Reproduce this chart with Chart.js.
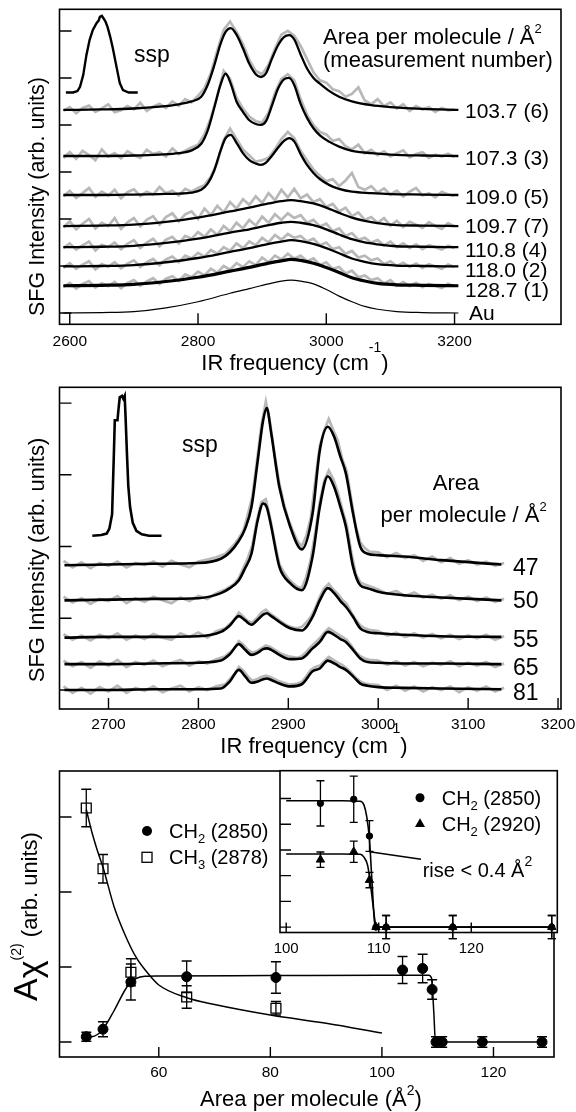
<!DOCTYPE html>
<html>
<head>
<meta charset="utf-8">
<title>SFG spectra</title>
<script src="https://cdn.jsdelivr.net/npm/chart.js@4.4.1/dist/chart.umd.min.js"></script>
<style>
  html, body { margin: 0; padding: 0; background: #fff; }
  body { position: relative; width: 576px; height: 1112px; overflow: hidden; }
  canvas { position: absolute; }
</style>
</head>
<body>
<canvas id="top" width="576" height="380" style="left:0;top:0"></canvas>
<canvas id="mid" width="576" height="382" style="left:0;top:380px"></canvas>
<canvas id="bottom" width="576" height="350" style="left:0;top:762px"></canvas>
<canvas id="inset" width="346" height="200" style="left:230px;top:762px"></canvas>
<script>
const FONT = '"Liberation Sans", Arial, Helvetica, sans-serif';
const GRAY = '#b8b8b8';

// ---- panel 1 : spectra, area per molecule (measurement number) ----
const p1XTicks = [2600, 2800, 3000, 3200];
const p1YTicks = [0, 1, 2, 3, 4, 5, 6];

const pulse1X = [2594, 2605, 2612, 2616, 2621, 2626, 2631, 2636, 2642, 2645, 2647, 2650, 2653, 2656, 2659, 2663, 2667, 2673, 2678, 2683, 2692, 2706];
const pulse1Y = [4.69, 4.69, 4.72, 4.81, 5.06, 5.49, 5.81, 6.02, 6.17, 6.22, 6.3, 6.32, 6.26, 6.19, 6.08, 5.88, 5.64, 5.23, 4.89, 4.74, 4.69, 4.69];

const fitX1 = [2590, 2650, 2700, 2740, 2770, 2790, 2805, 2815, 2825, 2835, 2843, 2851, 2860, 2870, 2880, 2890, 2898, 2906, 2915, 2925, 2934, 2942, 2950, 2960, 2970, 2980, 2990, 3005, 3020, 3040, 3070, 3100, 3150, 3206];
const fit1037 = [4.32, 4.33, 4.35, 4.39, 4.44, 4.5, 4.6, 4.85, 5.25, 5.72, 5.98, 6.06, 5.92, 5.63, 5.3, 5.08, 5.02, 5.1, 5.4, 5.7, 5.87, 5.91, 5.82, 5.5, 5.2, 5.0, 4.88, 4.72, 4.6, 4.5, 4.42, 4.38, 4.34, 4.32];
const fit1073 = [3.34, 3.34, 3.35, 3.37, 3.4, 3.46, 3.6, 3.88, 4.35, 4.85, 5.09, 4.88, 4.5, 4.28, 4.1, 4.02, 4.0, 4.08, 4.4, 4.78, 4.97, 5.0, 4.85, 4.45, 4.15, 3.93, 3.78, 3.64, 3.54, 3.45, 3.4, 3.37, 3.35, 3.34];
const fit1090 = [2.51, 2.51, 2.52, 2.53, 2.54, 2.56, 2.62, 2.75, 3.02, 3.45, 3.72, 3.79, 3.62, 3.4, 3.25, 3.18, 3.15, 3.2, 3.34, 3.52, 3.66, 3.72, 3.65, 3.38, 3.15, 2.98, 2.85, 2.72, 2.64, 2.58, 2.55, 2.53, 2.52, 2.51];

const fitX2 = [2590, 2650, 2700, 2750, 2800, 2850, 2880, 2910, 2930, 2945, 2960, 2980, 3000, 3020, 3040, 3060, 3080, 3110, 3150, 3206];
const fit1097 = [1.85, 1.86, 1.88, 1.94, 2.03, 2.16, 2.24, 2.33, 2.38, 2.4, 2.38, 2.33, 2.24, 2.13, 2.03, 1.96, 1.91, 1.87, 1.86, 1.85];
const fit1108 = [1.4, 1.41, 1.43, 1.49, 1.58, 1.71, 1.78, 1.87, 1.92, 1.94, 1.92, 1.87, 1.78, 1.67, 1.57, 1.5, 1.46, 1.42, 1.41, 1.4];
const fit1180 = [0.99, 1.0, 1.02, 1.08, 1.17, 1.3, 1.38, 1.47, 1.52, 1.55, 1.53, 1.47, 1.38, 1.27, 1.16, 1.09, 1.04, 1.01, 1.0, 0.99];
const fit1287 = [0.58, 0.59, 0.61, 0.67, 0.76, 0.89, 0.97, 1.06, 1.11, 1.14, 1.12, 1.06, 0.97, 0.86, 0.75, 0.68, 0.63, 0.6, 0.59, 0.58];
const fitAu = [0, 0.01, 0.03, 0.11, 0.24, 0.42, 0.52, 0.62, 0.68, 0.7, 0.68, 0.62, 0.5, 0.36, 0.24, 0.14, 0.08, 0.03, 0.01, 0];

const rawX1 = [2590, 2600, 2610, 2620, 2630, 2640, 2650, 2660, 2670, 2680, 2690, 2700, 2710, 2720, 2730, 2740, 2750, 2760, 2770, 2780, 2790, 2800, 2810, 2820, 2830, 2840, 2850, 2860, 2870, 2880, 2890, 2900, 2910, 2920, 2930, 2940, 2950, 2960, 2970, 2980, 2990, 3000, 3010, 3020, 3030, 3040, 3050, 3060, 3070, 3080, 3090, 3100, 3110, 3120, 3130, 3140, 3150, 3160, 3170, 3180, 3190, 3200];
const raw1037 = [4.30, 4.38, 4.25, 4.36, 4.41, 4.28, 4.35, 4.44, 4.27, 4.31, 4.40, 4.33, 4.47, 4.30, 4.39, 4.45, 4.36, 4.50, 4.41, 4.55, 4.48, 4.62, 4.78, 5.10, 5.58, 6.02, 6.20, 5.98, 5.72, 5.38, 5.15, 5.08, 5.28, 5.62, 5.92, 6.00, 5.90, 5.68, 5.40, 5.12, 4.95, 4.90, 4.76, 4.72, 4.60, 4.66, 4.80, 4.52, 4.44, 4.55, 4.40, 4.48, 4.35, 4.44, 4.30, 4.40, 4.33, 4.38, 4.28, 4.36, 4.31, 4.33];
const raw1073 = [3.30, 3.42, 3.28, 3.45, 3.36, 3.25, 3.48, 3.33, 3.40, 3.29, 3.44, 3.36, 3.30, 3.47, 3.38, 3.42, 3.33, 3.50, 3.38, 3.45, 3.52, 3.58, 3.80, 4.15, 4.62, 5.15, 4.98, 4.58, 4.35, 4.18, 4.08, 4.05, 4.26, 4.68, 4.98, 5.08, 4.95, 4.55, 4.22, 4.00, 3.85, 3.80, 3.66, 3.70, 3.55, 3.48, 3.58, 3.40, 3.47, 3.36, 3.44, 3.33, 3.40, 3.46, 3.31, 3.38, 3.42, 3.30, 3.37, 3.33, 3.39, 3.32];
const raw1090 = [2.48, 2.60, 2.45, 2.55, 2.66, 2.47, 2.58, 2.50, 2.62, 2.44, 2.57, 2.63, 2.49, 2.58, 2.52, 2.68, 2.55, 2.60, 2.50, 2.64, 2.58, 2.66, 2.72, 2.90, 3.20, 3.68, 3.92, 3.70, 3.48, 3.35, 3.22, 3.25, 3.30, 3.48, 3.70, 3.85, 3.72, 3.45, 3.25, 3.05, 2.92, 2.80, 2.85, 2.70, 2.82, 2.98, 2.68, 2.62, 2.70, 2.56, 2.65, 2.52, 2.60, 2.48, 2.58, 2.66, 2.50, 2.55, 2.46, 2.58, 2.52, 2.49];
const raw1097 = [1.82, 1.95, 1.78, 1.90, 2.00, 1.80, 1.92, 1.85, 2.02, 1.79, 1.93, 2.02, 1.84, 1.98, 2.06, 1.88, 2.04, 2.12, 1.95, 2.10, 2.16, 2.00, 2.22, 2.08, 2.28, 2.14, 2.36, 2.22, 2.42, 2.30, 2.48, 2.34, 2.55, 2.40, 2.62, 2.46, 2.64, 2.44, 2.52, 2.36, 2.42, 2.26, 2.32, 2.16, 2.24, 2.06, 2.14, 1.98, 2.04, 1.92, 2.02, 1.86, 1.96, 1.83, 1.94, 1.88, 1.81, 1.93, 1.85, 1.79, 1.91, 1.84];
const raw1108 = [1.38, 1.48, 1.35, 1.44, 1.52, 1.33, 1.45, 1.40, 1.50, 1.36, 1.47, 1.55, 1.38, 1.50, 1.58, 1.42, 1.56, 1.62, 1.48, 1.64, 1.58, 1.72, 1.62, 1.78, 1.66, 1.85, 1.74, 1.92, 1.80, 1.98, 1.86, 2.05, 1.92, 2.10, 1.98, 2.12, 2.02, 2.08, 1.92, 1.98, 1.84, 1.90, 1.74, 1.80, 1.64, 1.70, 1.56, 1.60, 1.50, 1.55, 1.44, 1.52, 1.40, 1.48, 1.38, 1.46, 1.36, 1.44, 1.40, 1.35, 1.43, 1.38];
const raw1180 = [0.96, 1.06, 0.94, 1.03, 1.10, 0.93, 1.04, 0.98, 1.08, 0.95, 1.05, 1.12, 0.98, 1.08, 1.15, 1.02, 1.14, 1.20, 1.08, 1.22, 1.16, 1.28, 1.20, 1.34, 1.26, 1.40, 1.32, 1.48, 1.38, 1.52, 1.44, 1.60, 1.50, 1.66, 1.56, 1.68, 1.60, 1.64, 1.52, 1.58, 1.44, 1.50, 1.36, 1.40, 1.26, 1.32, 1.18, 1.22, 1.12, 1.16, 1.04, 1.10, 1.00, 1.07, 0.98, 1.05, 0.96, 1.04, 0.99, 0.94, 1.03, 0.98];
const raw1287 = [0.55, 0.64, 0.52, 0.62, 0.68, 0.54, 0.63, 0.57, 0.66, 0.53, 0.64, 0.70, 0.58, 0.67, 0.74, 0.62, 0.73, 0.78, 0.68, 0.82, 0.76, 0.88, 0.80, 0.94, 0.86, 1.00, 0.92, 1.06, 0.98, 1.10, 1.02, 1.18, 1.08, 1.22, 1.14, 1.26, 1.16, 1.22, 1.10, 1.16, 1.02, 1.08, 0.94, 0.98, 0.84, 0.90, 0.76, 0.80, 0.70, 0.74, 0.63, 0.70, 0.58, 0.66, 0.57, 0.64, 0.55, 0.62, 0.58, 0.53, 0.62, 0.57];

// ---- panel 2 : spectra, area per molecule 47..81 ----
const p2XTicks = [2700, 2800, 2900, 3000, 3100, 3200];
const p2YTicks = [0, 1, 2, 3, 4];

const pulse2X = [2682, 2692, 2698, 2701, 2704, 2706, 2707, 2710, 2711, 2712.5, 2715, 2716.5, 2718, 2719, 2720.5, 2722, 2724, 2727, 2731, 2737, 2745, 2759];
const pulse2Y = [2.15, 2.16, 2.18, 2.25, 2.45, 3.3, 3.76, 3.76, 3.9, 4.08, 4.1, 4.06, 4.1, 3.8, 3.3, 2.85, 2.55, 2.33, 2.22, 2.17, 2.15, 2.15];

const fitX3 = [2651, 2700, 2750, 2800, 2825, 2835, 2845, 2852, 2859, 2866, 2872, 2876, 2881, 2890, 2902, 2915, 2927, 2935, 2944, 2951, 2958, 2964, 2972, 2980, 2988, 3000, 3029, 3070, 3137];
const fit47 = [1.74, 1.75, 1.76, 1.77, 1.83, 1.92, 2.08, 2.25, 2.55, 3.2, 3.76, 3.93, 3.58, 2.83, 2.28, 1.96, 2.46, 3.34, 3.67, 3.53, 3.25, 3.02, 2.46, 2.0, 1.9, 1.88, 1.86, 1.81, 1.75];
const fit50 = [1.25, 1.26, 1.27, 1.28, 1.35, 1.42, 1.53, 1.7, 1.9, 2.37, 2.6, 2.55, 2.28, 1.72, 1.49, 1.39, 1.86, 2.55, 2.98, 2.83, 2.55, 2.28, 1.72, 1.46, 1.42, 1.37, 1.32, 1.29, 1.25];
const fit55 = [0.73, 0.74, 0.74, 0.75, 0.81, 0.9, 1.03, 0.97, 0.91, 0.98, 1.05, 1.07, 1.03, 0.95, 0.86, 0.83, 1.02, 1.25, 1.42, 1.35, 1.24, 1.16, 1.02, 0.86, 0.81, 0.79, 0.77, 0.75, 0.74];
const fit65 = [0.36, 0.36, 0.37, 0.38, 0.41, 0.5, 0.64, 0.56, 0.49, 0.52, 0.57, 0.58, 0.56, 0.49, 0.43, 0.44, 0.58, 0.67, 0.81, 0.77, 0.71, 0.67, 0.56, 0.44, 0.39, 0.38, 0.37, 0.37, 0.36];
const fit81 = [0.0, 0.0, 0.01, 0.01, 0.02, 0.12, 0.28, 0.19, 0.1, 0.12, 0.15, 0.16, 0.14, 0.09, 0.05, 0.08, 0.26, 0.3, 0.41, 0.37, 0.32, 0.28, 0.19, 0.09, 0.06, 0.04, 0.03, 0.02, 0.01];

const rawX2 = [2650, 2660, 2670, 2680, 2690, 2700, 2710, 2720, 2730, 2740, 2750, 2760, 2770, 2780, 2790, 2800, 2810, 2820, 2830, 2840, 2845, 2850, 2855, 2860, 2865, 2870, 2875, 2880, 2885, 2890, 2895, 2900, 2905, 2910, 2915, 2920, 2925, 2930, 2935, 2940, 2945, 2950, 2955, 2960, 2965, 2970, 2975, 2980, 2985, 2990, 3000, 3010, 3020, 3030, 3040, 3050, 3060, 3070, 3080, 3090, 3100, 3110, 3120, 3130, 3140];
const raw47 = [1.80, 1.71, 1.78, 1.70, 1.77, 1.73, 1.79, 1.71, 1.77, 1.74, 1.79, 1.72, 1.80, 1.75, 1.71, 1.79, 1.82, 1.85, 1.90, 2.03, 2.12, 2.22, 2.45, 2.70, 3.18, 3.68, 4.02, 3.70, 3.26, 2.88, 2.60, 2.38, 2.22, 2.08, 2.00, 2.15, 2.40, 2.92, 3.40, 3.62, 3.78, 3.62, 3.48, 3.22, 3.05, 2.66, 2.28, 2.06, 1.98, 1.93, 1.92, 1.85, 1.91, 1.84, 1.88, 1.80, 1.86, 1.78, 1.84, 1.76, 1.81, 1.75, 1.79, 1.73, 1.77];
const raw50 = [1.30, 1.22, 1.28, 1.20, 1.27, 1.24, 1.31, 1.21, 1.28, 1.23, 1.30, 1.25, 1.21, 1.29, 1.24, 1.31, 1.27, 1.35, 1.40, 1.48, 1.56, 1.70, 1.84, 2.02, 2.36, 2.62, 2.66, 2.38, 2.05, 1.76, 1.64, 1.55, 1.49, 1.44, 1.42, 1.58, 1.82, 2.20, 2.62, 2.92, 3.06, 2.94, 2.76, 2.52, 2.30, 1.92, 1.62, 1.50, 1.47, 1.45, 1.40, 1.34, 1.38, 1.31, 1.36, 1.29, 1.33, 1.27, 1.32, 1.25, 1.30, 1.24, 1.29, 1.23, 1.27];
const raw55 = [0.78, 0.70, 0.76, 0.69, 0.77, 0.72, 0.79, 0.70, 0.76, 0.71, 0.78, 0.73, 0.70, 0.79, 0.74, 0.80, 0.73, 0.82, 0.86, 0.98, 1.08, 1.02, 0.96, 0.94, 1.00, 1.08, 1.12, 1.06, 1.02, 0.97, 0.93, 0.89, 0.87, 0.86, 0.88, 0.94, 1.02, 1.14, 1.30, 1.42, 1.48, 1.40, 1.34, 1.26, 1.20, 1.08, 0.98, 0.90, 0.86, 0.84, 0.82, 0.76, 0.80, 0.74, 0.79, 0.73, 0.78, 0.72, 0.77, 0.71, 0.76, 0.72, 0.77, 0.70, 0.75];
const raw65 = [0.41, 0.33, 0.39, 0.31, 0.40, 0.34, 0.42, 0.32, 0.39, 0.35, 0.41, 0.33, 0.38, 0.42, 0.34, 0.40, 0.37, 0.43, 0.47, 0.58, 0.68, 0.63, 0.56, 0.52, 0.54, 0.58, 0.62, 0.60, 0.56, 0.52, 0.49, 0.47, 0.46, 0.45, 0.47, 0.53, 0.60, 0.66, 0.72, 0.80, 0.86, 0.82, 0.78, 0.74, 0.70, 0.62, 0.53, 0.47, 0.44, 0.42, 0.41, 0.35, 0.40, 0.34, 0.39, 0.33, 0.38, 0.35, 0.40, 0.33, 0.38, 0.34, 0.39, 0.32, 0.37];
const raw81 = [0.05, -0.04, 0.03, -0.05, 0.04, -0.02, 0.06, -0.04, 0.03, -0.01, 0.05, -0.03, 0.02, 0.06, -0.02, 0.04, 0.00, 0.05, 0.08, 0.22, 0.32, 0.27, 0.19, 0.13, 0.15, 0.18, 0.20, 0.18, 0.15, 0.12, 0.10, 0.08, 0.08, 0.09, 0.11, 0.19, 0.28, 0.32, 0.34, 0.40, 0.46, 0.42, 0.38, 0.35, 0.30, 0.24, 0.17, 0.12, 0.09, 0.08, 0.07, 0.00, 0.06, -0.01, 0.05, -0.02, 0.04, 0.00, 0.05, -0.03, 0.04, -0.01, 0.05, -0.02, 0.03];

// ---- panel 3 : amplitudes vs area per molecule ----
const p3XTicks = [60, 80, 100, 120];
const p3YTicks = [0, 1, 2, 3];
const areaCH2 = [47, 50, 55, 65, 81, 103.7, 107.3, 109.0, 109.7, 110.8, 118.0, 128.7];
const ampCH2 = [0.07, 0.17, 0.80, 0.87, 0.86, 0.96, 0.98, 0.70, 0, 0, 0, 0];
const errCH2 = [0.06, 0.1, 0.24, 0.21, 0.21, 0.18, 0.19, 0.13, 0.07, 0.07, 0.07, 0.07];
const areaCH3 = [47, 50, 55, 65, 81];
const ampCH3 = [3.12, 2.31, 0.93, 0.60, 0.45];
const errCH3 = [0.25, 0.19, 0.18, 0.15, 0.09];
const fitCH2X = [47, 48, 49, 50, 52, 54, 55, 56, 57.5, 60, 80, 100, 108.4, 108.9, 109.3, 109.6, 110, 128.7];
const fitCH2Y = [0.07, 0.07, 0.1, 0.17, 0.42, 0.7, 0.8, 0.85, 0.875, 0.88, 0.885, 0.89, 0.89, 0.85, 0.4, 0.0, 0.0, 0.0];
const fitCH3X = [47, 48, 49, 50, 52, 54, 56, 58, 60, 65, 70, 80, 90, 100];
const fitCH3Y = [3.1, 2.8, 2.55, 2.33, 1.8, 1.42, 1.12, 0.92, 0.76, 0.59, 0.5, 0.36, 0.25, 0.12];

// inset
const inXTicks = [100, 110, 120];
const inYTicks = [0, 1, 2, 3, 4, 5];
const inAreas = [103.7, 107.3, 109.0, 109.7, 110.8, 118.0, 128.7];
const in2850 = [4.81, 4.97, 3.54, 0, 0, 0, 0];
const in2850Err = [0.88, 0.9, 0.6, 0, 0.45, 0.45, 0.45];
const in2920 = [2.62, 2.93, 1.83, 0, 0, 0, 0];
const in2920Err = [0.3, 0.41, 0.3, 0, 0.45, 0.45, 0.45];
const fitIn2850X = [100, 106, 108.0, 108.4, 108.7, 109.0, 109.3, 109.6, 110, 128.7];
const fitIn2850Y = [4.91, 4.91, 4.89, 4.75, 4.3, 3.4, 1.6, 0.05, 0, 0];
const fitIn2920X = [100, 106, 108.0, 108.4, 108.8, 109.1, 109.4, 109.7, 110, 128.7];
const fitIn2920Y = [2.84, 2.84, 2.83, 2.72, 2.4, 1.7, 0.8, 0.05, 0, 0];

// ---------- helpers ----------
function xy(xs, ys) { return xs.map((v, i) => ({x: v, y: ys[i]})); }
function raw(xs, ys) {
  return {data: xy(xs, ys), borderColor: GRAY, borderWidth: 2.7, pointRadius: 0, tension: 0, order: 2};
}
function fit(xs, ys, w) {
  return {data: xy(xs, ys), borderColor: '#000', borderWidth: w || 2.3, pointRadius: 0, cubicInterpolationMode: 'monotone', order: 1};
}
function trace(xs, ys, w) {
  return {data: xy(xs, ys), borderColor: '#000', borderWidth: w, pointRadius: 0, tension: 0, order: 1};
}
function marks(xs, ys, errs, style, r, filled, cap) {
  return {
    data: xy(xs, ys), showLine: false, pointStyle: style, pointRadius: r,
    pointBackgroundColor: filled ? '#000' : 'rgba(0,0,0,0)', pointBorderColor: '#000',
    pointBorderWidth: filled ? 1 : 1.3, errorBars: errs, capWidth: cap, order: 0
  };
}

function opts(pad, xr, yr) {
  return {
    responsive: false, animation: false, events: [],
    layout: {padding: pad},
    plugins: {legend: {display: false}, tooltip: {enabled: false}},
    scales: {
      x: {type: 'linear', display: false, min: xr[0], max: xr[1]},
      y: {type: 'linear', display: false, min: yr[0], max: yr[1]}
    }
  };
}

function drawRuns(ctx, t) {
  ctx.save();
  ctx.translate(t.x, t.y);
  if (t.rot) ctx.rotate(-Math.PI / 2);
  const widths = t.runs.map(r => { ctx.font = r[1] + 'px ' + FONT; return ctx.measureText(r[0]).width; });
  let cx = t.center ? -widths.reduce((a, b) => a + b, 0) / 2 : 0;
  ctx.fillStyle = '#000';
  ctx.textAlign = 'left';
  ctx.textBaseline = 'alphabetic';
  t.runs.forEach((r, i) => {
    ctx.font = r[1] + 'px ' + FONT;
    ctx.fillText(r[0], cx, r[2] || 0);
    cx += widths[i];
  });
  ctx.restore();
}

function drawMark(ctx, m) {
  ctx.beginPath();
  if (m.type === 'circle') {
    ctx.arc(m.x, m.y, m.r, 0, Math.PI * 2);
    ctx.fill();
  } else if (m.type === 'tri') {
    ctx.moveTo(m.x, m.y - m.r);
    ctx.lineTo(m.x + m.r * 0.866, m.y + m.r / 2);
    ctx.lineTo(m.x - m.r * 0.866, m.y + m.r / 2);
    ctx.closePath();
    ctx.fill();
  } else {
    ctx.lineWidth = 1.3;
    ctx.strokeRect(m.x - m.r, m.y - m.r, 2 * m.r, 2 * m.r);
  }
}

const errorBars = {
  id: 'errorBars',
  beforeDatasetsDraw(chart) {
    const {ctx} = chart;
    const sx = chart.scales.x, sy = chart.scales.y;
    ctx.save();
    ctx.strokeStyle = '#000';
    ctx.lineWidth = 1.3;
    chart.data.datasets.forEach(ds => {
      if (!ds.errorBars) return;
      ds.data.forEach((p, i) => {
        const e = ds.errorBars[i];
        if (!e) return;
        const px = sx.getPixelForValue(p.x);
        const top = sy.getPixelForValue(p.y + e), bot = sy.getPixelForValue(p.y - e);
        const w = ds.capWidth;
        ctx.beginPath();
        ctx.moveTo(px, top); ctx.lineTo(px, bot);
        ctx.moveTo(px - w, top); ctx.lineTo(px + w, top);
        ctx.moveTo(px - w, bot); ctx.lineTo(px + w, bot);
        ctx.stroke();
      });
    });
    ctx.restore();
  }
};

function decor(d) {
  return {
    id: 'decor',
    beforeDraw(chart) {
      if (!d.white) return;
      const a = chart.chartArea, ctx = chart.ctx;
      ctx.save();
      ctx.fillStyle = '#fff';
      ctx.fillRect(a.left, a.top, a.right - a.left, a.bottom - a.top);
      ctx.restore();
    },
    afterDraw(chart) {
      const {ctx, chartArea: a} = chart;
      const sx = chart.scales.x, sy = chart.scales.y;
      ctx.save();
      ctx.strokeStyle = '#000';
      ctx.lineWidth = 1.6;
      ctx.strokeRect(a.left, a.top, a.right - a.left, a.bottom - a.top);
      ctx.lineWidth = 1.4;
      ctx.beginPath();
      d.yTicks.forEach(v => {
        const p = sy.getPixelForValue(v);
        ctx.moveTo(a.left, p); ctx.lineTo(a.left + d.yLen, p);
      });
      d.xTicks.forEach(v => {
        const p = sx.getPixelForValue(v);
        ctx.moveTo(p, a.bottom); ctx.lineTo(p, a.bottom - d.xLen);
      });
      (d.lines || []).forEach(l => { ctx.moveTo(l[0], l[1]); ctx.lineTo(l[2], l[3]); });
      ctx.stroke();
      ctx.fillStyle = '#000';
      ctx.font = d.labelSize + 'px ' + FONT;
      ctx.textAlign = 'center';
      ctx.textBaseline = 'middle';
      d.xTicks.forEach(v => ctx.fillText(String(v), sx.getPixelForValue(v), d.labelY));
      (d.marks || []).forEach(m => drawMark(ctx, m));
      (d.texts || []).forEach(t => drawRuns(ctx, t));
      ctx.restore();
    }
  };
}

// ---------- panel 1 ----------
new Chart(document.getElementById('top'), {
  type: 'line',
  data: {datasets: [
    trace(pulse1X, pulse1Y, 2.4),
    fit(fitX1, fit1037), fit(fitX1, fit1073), fit(fitX1, fit1090),
    fit(fitX2, fit1097), fit(fitX2, fit1108), fit(fitX2, fit1180),
    fit(fitX2, fit1287, 3.2), fit(fitX2, fitAu, 1.2),
    raw(rawX1, raw1037), raw(rawX1, raw1073), raw(rawX1, raw1090),
    raw(rawX1, raw1097), raw(rawX1, raw1108), raw(rawX1, raw1180), raw(rawX1, raw1287)
  ]},
  options: opts({left: 59.5, right: 15, top: 9.3, bottom: 55.7}, [2584, 3366], [-0.24, 6.46]),
  plugins: [decor({
    xTicks: p1XTicks, yTicks: p1YTicks, yLen: 12, xLen: 11, labelSize: 15.5, labelY: 342,
    texts: [
      {x: 134, y: 62, runs: [['ssp', 23]]},
      {x: 323, y: 44, runs: [['Area per molecule / Å', 22], ['2', 13, -11]]},
      {x: 323, y: 67, runs: [['(measurement number)', 22]]},
      {x: 465, y: 117.5, runs: [['103.7 (6)', 21]]},
      {x: 465, y: 165, runs: [['107.3 (3)', 21]]},
      {x: 465, y: 204, runs: [['109.0 (5)', 21]]},
      {x: 465, y: 233, runs: [['109.7 (7)', 21]]},
      {x: 465, y: 256.7, runs: [['110.8 (4)', 21]]},
      {x: 465, y: 276.7, runs: [['118.0 (2)', 21]]},
      {x: 465, y: 297.3, runs: [['128.7 (1)', 21]]},
      {x: 469, y: 320, runs: [['Au', 21]]},
      {x: 295, y: 370, center: true, runs: [['IR frequency (cm', 22], ['-1', 14, -18], [')', 22]]},
      {x: 44, y: 196.5, rot: true, center: true, runs: [['SFG Intensity (arb. units)', 21.5]]}
    ]
  })]
});

// ---------- panel 2 ----------
new Chart(document.getElementById('mid'), {
  type: 'line',
  data: {datasets: [
    trace(pulse2X, pulse2Y, 2.6),
    fit(fitX3, fit47, 2.6), fit(fitX3, fit50, 2.6), fit(fitX3, fit55, 2.6),
    fit(fitX3, fit65, 2.6), fit(fitX3, fit81, 2.6),
    raw(rawX2, raw47), raw(rawX2, raw50), raw(rawX2, raw55), raw(rawX2, raw65), raw(rawX2, raw81)
  ]},
  options: opts({left: 59.5, right: 15, top: 7.3, bottom: 53}, [2645.5, 3203.3], [-0.265, 4.22]),
  plugins: [decor({
    xTicks: p2XTicks, yTicks: p2YTicks, yLen: 12, xLen: 11, labelSize: 15.5, labelY: 345,
    texts: [
      {x: 182, y: 71.7, runs: [['ssp', 23]]},
      {x: 456, y: 110, center: true, runs: [['Area', 22]]},
      {x: 380.5, y: 141.7, runs: [['per molecule / Å', 22], ['2', 13, -11]]},
      {x: 513, y: 195, runs: [['47', 23]]},
      {x: 513, y: 228.3, runs: [['50', 23]]},
      {x: 513, y: 266.7, runs: [['55', 23]]},
      {x: 513, y: 295, runs: [['65', 23]]},
      {x: 513, y: 320, runs: [['81', 23]]},
      {x: 314, y: 373, center: true, runs: [['IR frequency (cm', 22], ['-1', 14, -20], [')', 22]]},
      {x: 44, y: 180, rot: true, center: true, runs: [['SFG Intensity (arb. units)', 22]]}
    ]
  })]
});

// ---------- panel 3 ----------
new Chart(document.getElementById('bottom'), {
  type: 'line',
  data: {datasets: [
    marks(areaCH2, ampCH2, errCH2, 'circle', 5, true, 5),
    marks(areaCH3, ampCH3, errCH3, 'rect', 7, false, 5),
    fit(fitCH2X, fitCH2Y, 1.5), fit(fitCH3X, fitCH3Y, 1.5)
  ]},
  options: opts({left: 59.5, right: 22, top: 9, bottom: 55}, [42.2, 130.85], [-0.2, 3.613]),
  plugins: [errorBars, decor({
    xTicks: p3XTicks, yTicks: p3YTicks, yLen: 12, xLen: 10, labelSize: 15.5, labelY: 311,
    marks: [{type: 'circle', x: 147, y: 69, r: 5}, {type: 'rect', x: 147, y: 95.3, r: 5}],
    texts: [
      {x: 169, y: 76, runs: [['CH', 20], ['2', 13, 5], [' (2850)', 20]]},
      {x: 169, y: 102, runs: [['CH', 20], ['3', 13, 5], [' (2878)', 20]]},
      {x: 311, y: 344, center: true, runs: [['Area per molecule (Å', 22], ['2', 14, -11], [')', 22]]},
      {x: 37, y: 154.5, rot: true, center: true, runs: [['A', 34], ['χ', 34, 4], ['(2)', 14, -16], [' (arb. units)', 22]]}
    ]
  })]
});

// ---------- inset ----------
new Chart(document.getElementById('inset'), {
  type: 'line',
  data: {datasets: [
    marks(inAreas, in2850, in2850Err, 'circle', 3.2, true, 4),
    marks(inAreas, in2920, in2920Err, 'triangle', 4.8, true, 4),
    fit(fitIn2850X, fitIn2850Y, 1.6), fit(fitIn2920X, fitIn2920Y, 1.6)
  ]},
  options: opts({left: 50, right: 18.7, top: 8.7, bottom: 29.5}, [99.33, 129.3], [-0.21, 6.08]),
  plugins: [decor({
    white: true,
    xTicks: inXTicks, yTicks: inYTicks, yLen: 11, xLen: 10, labelSize: 15, labelY: 187,
    lines: [[139.5, 89.7, 191, 97.3]],
    marks: [{type: 'circle', x: 190, y: 35.7, r: 4.5}, {type: 'tri', x: 190, y: 62, r: 5.8}],
    texts: [
      {x: 211.7, y: 43.3, runs: [['CH', 20], ['2', 13, 5], [' (2850)', 20]]},
      {x: 211.7, y: 69, runs: [['CH', 20], ['2', 13, 5], [' (2920)', 20]]},
      {x: 192.7, y: 115, runs: [['rise < 0.4 Å', 20], ['2', 14, -11]]}
    ]
  }), errorBars]
});
</script>
</body>
</html>
